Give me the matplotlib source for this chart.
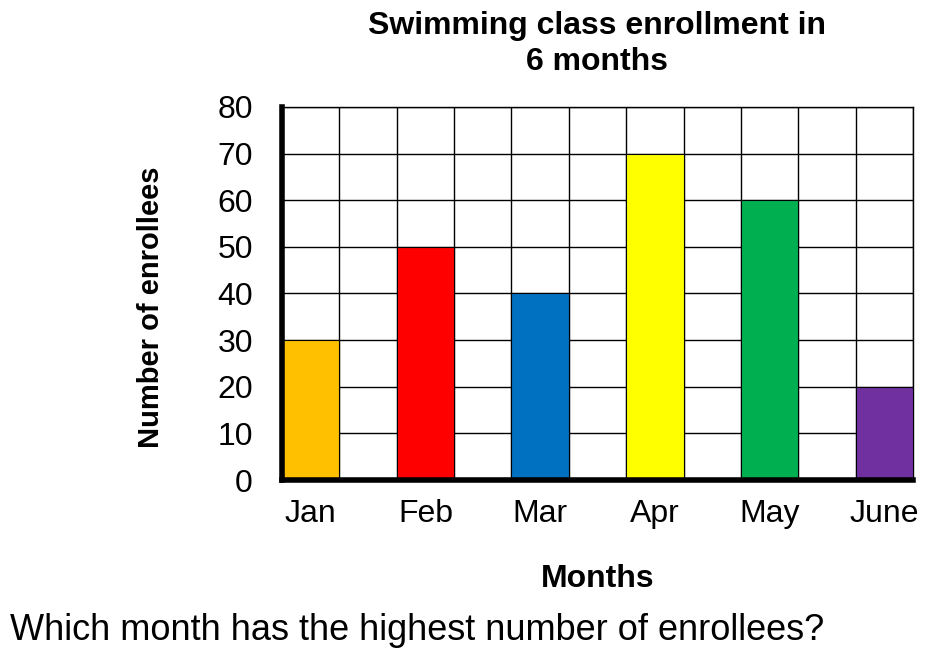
import matplotlib.pyplot as plt
import numpy as np

plt.rcParams['font.family'] = ['Liberation Sans', 'DejaVu Sans']

months = ["Jan", "Feb", "Mar", "Apr", "May", "June"]
enrollees = [30, 50, 40, 70, 60, 20]
colors = ["#FFC000", "#FF0000", "#0070C0", "#FFFF00", "#00B050", "#7030A0"]
y_ticks = [0, 10, 20, 30, 40, 50, 60, 70, 80]

fig = plt.figure(figsize=(9.51, 6.62), dpi=100)
ax = fig.add_axes([0.2965, 0.2749, 0.6635, 0.5635])

# bars sit in every other grid column
pos = np.arange(len(months)) * 2 + 0.5
ax.bar(pos, enrollees, width=1.0, color=colors, edgecolor="black", linewidth=0.8, zorder=3)

ax.set_xlim(0, 11)
ax.set_ylim(0, 80)
ax.set_xticks(np.arange(0, 12), minor=True)
ax.set_xticks(pos)
ax.set_xticklabels(months, fontsize=23)
ax.set_yticks(y_ticks)
ax.set_yticklabels([str(v) for v in y_ticks], fontsize=23)
ax.tick_params(axis="both", which="both", length=0)
ax.tick_params(axis="x", pad=14)
ax.tick_params(axis="y", pad=21)

ax.grid(True, which="minor", axis="x", color="black", linewidth=1.0, zorder=1)
ax.grid(True, which="major", axis="y", color="black", linewidth=1.0, zorder=1)
ax.set_axisbelow(True)

for side in ["top", "right"]:
    ax.spines[side].set_linewidth(1.0)
ax.spines["left"].set_linewidth(4)
ax.spines["bottom"].set_linewidth(4)
ax.spines["left"].set_zorder(4)
ax.spines["bottom"].set_zorder(4)

ax.set_title("Swimming class enrollment in\n6 months", fontsize=23, fontweight="bold", pad=26.5,
             linespacing=1.25)
ax.set_ylabel("Number of enrollees", fontsize=21, fontweight="bold")
ax.yaxis.set_label_coords(-0.185, 0.464)
ax.set_xlabel("Months", fontsize=23, fontweight="bold", labelpad=25)

fig.text(0.0105, 0.048, "Which month has the highest number of enrollees?", fontsize=26, ha="left", va="center")

fig.savefig("out.png", dpi=100)
